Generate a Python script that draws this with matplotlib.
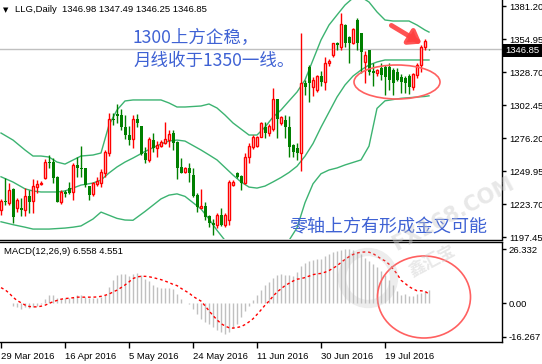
import matplotlib
matplotlib.use('Agg')
import matplotlib.pyplot as plt
import numpy as np
from matplotlib.patches import Ellipse, FancyArrowPatch, Circle, Rectangle

# ---------------- data ----------------
opens = [1219.2, 1226.6, 1225.0, 1235.6, 1220.5, 1220.5, 1219.2, 1230.3, 1226.6, 1237.7,
         1240.1, 1244.9, 1257.3, 1257.6, 1245.7, 1225.8, 1233.7, 1236.9, 1233.7, 1255.0,
         1252.8, 1252.3, 1238.2, 1231.6, 1239.6, 1240.9, 1248.3, 1264.8, 1291.3, 1295.5,
         1295.0, 1285.5, 1278.8, 1275.4, 1291.3, 1286.0, 1264.8, 1258.9, 1274.8, 1268.7,
         1270.1, 1272.7, 1274.8, 1280.1, 1273.5, 1253.1, 1249.6, 1252.3, 1247.0, 1231.1,
         1221.0, 1222.3, 1214.4, 1208.5, 1207.2, 1215.2, 1207.2, 1211.2, 1239.0, 1248.3,
         1246.2, 1240.9, 1261.0, 1269.5, 1270.0, 1277.5, 1284.9, 1280.6, 1283.3, 1307.2,
         1288.1, 1290.7, 1284.9, 1270.9, 1268.2, 1264.2, 1320.4, 1333.2, 1316.7, 1314.6,
         1326.0, 1321.2, 1335.8, 1342.4, 1352.3, 1349.1, 1366.3, 1357.0, 1352.3, 1370.3,
         1359.7, 1337.1, 1346.4, 1329.5, 1327.9, 1331.8, 1333.0, 1333.2, 1330.5, 1329.2,
         1325.2, 1324.0, 1326.0, 1316.7, 1326.5, 1334.5, 1348.6, 1346.98]
highs = [1227.6, 1244.3, 1240.9, 1236.4, 1228.4, 1228.4, 1236.9, 1235.1, 1243.5, 1243.0,
         1242.2, 1259.5, 1262.9, 1260.3, 1245.9, 1235.1, 1235.1, 1241.7, 1256.3, 1261.6,
         1270.1, 1252.5, 1238.4, 1241.7, 1245.1, 1251.5, 1266.9, 1296.1, 1296.1, 1303.5,
         1299.2, 1294.7, 1286.0, 1294.7, 1295.5, 1286.2, 1269.5, 1277.5, 1280.1, 1274.3,
         1274.8, 1289.4, 1282.8, 1282.8, 1273.7, 1260.3, 1253.6, 1256.3, 1252.3, 1232.4,
         1236.0, 1225.8, 1215.0, 1212.0, 1217.0, 1220.5, 1216.5, 1243.0, 1243.0, 1249.5,
         1247.0, 1264.2, 1272.2, 1278.8, 1278.0, 1289.4, 1289.4, 1287.6, 1315.9, 1307.5,
         1293.9, 1294.7, 1293.9, 1271.5, 1272.7, 1359.7, 1322.6, 1334.5, 1325.0, 1326.5,
         1330.0, 1341.1, 1339.0, 1352.3, 1353.0, 1376.1, 1367.0, 1357.2, 1363.7, 1371.6,
         1360.0, 1346.0, 1346.8, 1336.0, 1331.5, 1335.8, 1334.5, 1335.8, 1331.8, 1332.0,
         1327.0, 1326.0, 1327.5, 1328.0, 1335.8, 1350.4, 1354.9, 1347.49]
lows = [1215.2, 1223.1, 1223.1, 1209.1, 1217.8, 1214.4, 1214.4, 1217.0, 1217.0, 1232.4,
        1239.0, 1243.5, 1252.3, 1240.4, 1225.3, 1223.9, 1229.8, 1231.9, 1227.1, 1245.7,
        1245.1, 1237.2, 1227.1, 1230.3, 1238.2, 1237.7, 1245.7, 1262.1, 1286.8, 1288.1,
        1282.8, 1275.4, 1270.9, 1268.2, 1285.5, 1262.9, 1256.8, 1257.6, 1265.6, 1261.6,
        1269.5, 1271.6, 1269.5, 1266.9, 1243.6, 1248.3, 1248.9, 1241.7, 1229.7, 1217.8,
        1220.5, 1211.2, 1205.9, 1199.0, 1205.0, 1206.5, 1206.0, 1207.2, 1238.5, 1245.0,
        1235.1, 1240.0, 1256.8, 1268.0, 1269.0, 1276.9, 1276.2, 1278.0, 1282.2, 1276.2,
        1287.0, 1276.2, 1261.6, 1261.0, 1258.9, 1250.4, 1310.6, 1305.3, 1310.0, 1313.0,
        1318.0, 1314.6, 1334.0, 1341.1, 1346.4, 1346.4, 1349.1, 1335.8, 1351.0, 1346.4,
        1327.9, 1319.9, 1326.5, 1318.0, 1326.0, 1322.6, 1310.6, 1314.6, 1310.6, 1322.0,
        1312.0, 1312.0, 1311.5, 1315.0, 1324.0, 1329.0, 1346.4, 1346.25]
closes = [1226.3, 1225.5, 1235.1, 1213.8, 1227.1, 1219.2, 1230.3, 1225.8, 1238.2, 1239.8,
          1240.9, 1257.6, 1256.5, 1244.9, 1225.8, 1233.7, 1231.6, 1233.0, 1255.0, 1252.3,
          1251.5, 1239.0, 1231.1, 1240.4, 1242.2, 1249.6, 1265.0, 1291.3, 1290.7, 1294.2,
          1285.5, 1278.8, 1274.8, 1291.3, 1288.6, 1263.7, 1258.9, 1275.4, 1268.2, 1270.9,
          1273.5, 1275.4, 1279.6, 1272.7, 1252.3, 1248.9, 1252.3, 1248.3, 1230.3, 1221.8,
          1222.3, 1213.3, 1209.1, 1207.2, 1215.2, 1207.2, 1215.2, 1241.7, 1241.7, 1245.7,
          1240.4, 1261.6, 1270.1, 1277.0, 1276.9, 1288.1, 1280.6, 1286.0, 1307.2, 1291.3,
          1292.9, 1284.9, 1269.5, 1265.6, 1264.2, 1319.9, 1317.2, 1319.9, 1322.6, 1325.7,
          1321.0, 1335.8, 1337.7, 1351.7, 1350.4, 1367.1, 1351.7, 1351.7, 1362.9, 1351.7,
          1345.1, 1342.4, 1329.2, 1328.0, 1330.5, 1326.5, 1325.0, 1322.6, 1320.0, 1322.6,
          1321.2, 1320.0, 1317.0, 1327.3, 1334.5, 1349.1, 1353.9, 1346.85]

bb_bars = [0, 3, 6, 8, 10, 12, 14, 16, 18, 20, 23, 25, 27, 29, 31, 33, 36, 40, 42, 44,
           46, 50, 52, 54, 56, 58, 60, 62, 64, 66, 68, 70, 72, 74, 76, 78, 80, 82, 84, 86,
           88, 90, 92, 94, 96, 98, 100, 102, 104, 106, 107]
bb_upper = [1280.4, 1274.8, 1266.9, 1262.1, 1262.1, 1261.3, 1257.3, 1255.7, 1258.9, 1262.1,
            1262.9, 1264.5, 1286.8, 1298.7, 1305.9, 1306.7, 1306.7, 1306.7, 1304.3, 1301.1,
            1301.1, 1301.9, 1303.5, 1300.3, 1294.7, 1288.4, 1283.6, 1278.8, 1278.8, 1285.1,
            1293.1, 1298.7, 1305.9, 1313.0, 1322.6, 1338.5, 1354.4, 1366.3, 1374.3, 1382.2,
            1387.8, 1388.6, 1384.6, 1376.7, 1370.3, 1369.5, 1369.5, 1369.5, 1366.3, 1362.3, 1360.7]
bb_mid = [1245.6, 1241.4, 1236.0, 1234.3, 1233.5, 1233.5, 1233.5, 1234.3, 1236.6, 1239.0,
          1240.6, 1243.0, 1248.6, 1253.4, 1257.3, 1260.5, 1265.7, 1271.7, 1274.0, 1274.8,
          1274.0, 1266.9, 1263.0, 1259.0, 1253.0, 1247.0, 1241.5, 1237.4, 1236.6, 1238.2,
          1241.5, 1245.0, 1249.0, 1254.0, 1262.0, 1272.0, 1285.0, 1297.0, 1309.0, 1318.6,
          1325.7, 1330.5, 1334.5, 1336.9, 1338.5, 1338.5, 1338.5, 1338.5, 1338.5, 1338.5, 1338.5]
bb_lower = [1209.8, 1207.5, 1205.5, 1204.0, 1204.0, 1204.0, 1204.4, 1204.8, 1205.5, 1206.5,
            1212.0, 1217.5, 1215.0, 1212.5, 1211.2, 1211.0, 1218.0, 1228.0, 1231.0, 1232.0,
            1230.0, 1220.0, 1212.0, 1203.0, 1195.0, 1188.0, 1184.0, 1182.0, 1182.0, 1183.0,
            1186.0, 1190.0, 1195.0, 1205.0, 1225.0, 1240.0, 1248.0, 1251.0, 1252.6, 1255.0,
            1257.0, 1259.0, 1270.0, 1300.0, 1306.0, 1307.0, 1308.0, 1308.5, 1309.0, 1309.5, 1310.0]

macd_hist = [0.3, 0.2, 0.0, -1.2, -2.0, -2.8, -2.0, -2.3, -2.0, -1.2,
             -0.5, 1.9, 3.9, 3.9, 2.7, 1.9, 2.7, 2.7, 3.0, 3.9,
             3.9, 3.0, 2.7, 2.7, 2.7, 3.0, 4.2, 8.1, 11.2, 13.6,
             14.3, 14.0, 13.2, 14.3, 14.8, 13.9, 12.0, 10.8, 8.9, 8.1,
             7.6, 7.6, 7.3, 7.0, 4.5, 2.3, 0.3, -0.1, -2.8, -5.4,
             -7.5, -9.0, -10.1, -11.7, -12.9, -14.1, -14.8, -13.7, -12.1, -10.1,
             -6.7, -3.9, -1.2, 1.4, 3.9, 6.5, 8.9, 10.4, 12.3, 13.9,
             14.3, 13.9, 13.6, 13.2, 15.1, 18.2, 19.8, 20.6, 21.0, 21.3,
             21.3, 22.9, 24.1, 24.8, 25.2, 26.0, 26.3, 26.3, 26.0, 24.8,
             23.7, 22.1, 20.6, 19.0, 17.4, 15.9, 13.6, 11.2, 8.9, 5.8,
             4.2, 4.5, 3.4, 3.6, 4.5, 5.0, 5.8, 6.558]
macd_signal = [7.6, 6.6, 5.0, 3.0, 1.4, 0.3, -0.8, -1.5, -1.7, -1.7,
               -1.4, -0.9, -0.1, 0.8, 1.4, 2.0, 2.3, 2.5, 2.7, 3.0,
               3.0, 3.0, 3.0, 3.0, 3.1, 3.4, 3.9, 4.5, 5.5, 6.4,
               7.6, 8.9, 10.4, 12.0, 12.8, 13.1, 13.1, 12.9, 12.5, 12.0,
               11.5, 10.8, 10.1, 9.2, 8.6, 7.3, 6.1, 5.0, 3.4, 2.2,
               1.1, -1.2, -3.6, -5.9, -8.0, -9.8, -11.0, -11.8, -12.0, -11.7,
               -11.3, -10.3, -9.0, -7.5, -5.4, -3.2, -0.9, 1.1, 3.4, 5.5,
               7.0, 8.6, 9.7, 10.8, 11.7, 12.0, 12.5, 13.2, 13.9, 14.3,
               14.5, 15.1, 15.9, 17.0, 18.2, 19.8, 21.3, 22.6, 23.7, 24.4,
               24.8, 24.9, 24.8, 24.1, 22.9, 21.6, 20.6, 19.0, 16.7, 14.3,
               11.2, 9.7, 8.1, 7.0, 6.1, 6.1, 5.8, 4.551]

price_ticks = [1381.20, 1354.95, 1328.70, 1302.45, 1276.20, 1249.95, 1223.70, 1197.45]
macd_ticks = [26.332, 0.00, -16.267]
macd_tick_labels = ['26.332', '0.00', '-16.267']
date_bars = [0, 16, 32, 48, 64, 80, 96]
date_labels = ['29 Mar 2016', '16 Apr 2016', '5 May 2016', '24 May 2016',
               '11 Jun 2016', '30 Jun 2016', '19 Jul 2016']
title_text = 'LLG,Daily  1346.98 1347.49 1346.25 1346.85'
last_price = 1346.85
macd_title = 'MACD(12,26,9) 6.558 4.551'
note1 = '1300上方企稳，'
note2 = '月线收于1350一线。'
note3 = '零轴上方有形成金叉可能'

# ---------------- figure ----------------
W, H = 542, 364
fig = plt.figure(figsize=(W / 100, H / 100), dpi=100)
FONT = 'Liberation Sans'
CJK = ['Noto Sans CJK SC', 'DejaVu Sans']
FS = 6.8

def fp(x, y):
    return (x / W, 1 - y / H)

ax = fig.add_axes([0, 1 - 239 / H, 502 / W, 239 / H])
axm = fig.add_axes([0, 1 - 342 / H, 502 / W, 100 / H])

o = np.array(opens); h = np.array(highs); l = np.array(lows); c = np.array(closes)
x = np.arange(len(o))
up = c >= o
dn = ~up

ax.axhline(last_price, color='#c0c0c0', lw=1, zorder=0)
ax.plot(bb_bars, bb_upper, color='#3cb371', lw=1, zorder=1)
ax.plot(bb_bars, bb_mid, color='#3cb371', lw=1, zorder=1)
ax.plot(bb_bars, bb_lower, color='#3cb371', lw=1, zorder=1)

ax.vlines(x[up], l[up], h[up], color='#ff0000', lw=1, zorder=2)
ax.vlines(x[dn], l[dn], h[dn], color='#008000', lw=1, zorder=2)
ax.bar(x[up], np.maximum(c[up] - o[up], 0.3), bottom=o[up], width=0.5,
       facecolor='white', edgecolor='#ff0000', lw=1, zorder=3)
ax.bar(x[dn], np.maximum(o[dn] - c[dn], 0.6), bottom=c[dn], width=0.75,
       color='#008000', lw=0, zorder=3)

ax.set_xlim(-0.25, 125.25)
ax.set_ylim(1196.1, 1386.21)
ax.yaxis.tick_right()
ax.set_yticks(price_ticks)
ax.set_yticklabels(['%.2f' % v for v in price_ticks], fontfamily=FONT, fontsize=FS)
ax.tick_params(axis='y', direction='out', length=3, width=1, pad=2, colors='black')
ax.set_xticks([])
for s in ['left', 'top', 'bottom']:
    ax.spines[s].set_visible(False)
ax.spines['right'].set_linewidth(1)

# MACD
axm.vlines(x, 0, macd_hist, color='#c0c0c0', lw=1)
axm.plot(x, macd_signal, color='#ff0000', lw=1, ls=(0, (2, 2)))
axm.set_xlim(-0.25, 125.25)
axm.set_ylim(-18.74, 29.74)
axm.yaxis.tick_right()
axm.set_yticks(macd_ticks)
axm.set_yticklabels(macd_tick_labels, fontfamily=FONT, fontsize=FS)
axm.tick_params(axis='y', direction='out', length=3, width=1, pad=2)
axm.set_xticks(date_bars)
axm.set_xticklabels(date_labels, fontfamily=FONT, fontsize=FS)
for lab in axm.get_xticklabels():
    lab.set_horizontalalignment('left')
axm.tick_params(axis='x', direction='out', length=4, width=1, pad=3)
axm.spines['left'].set_visible(False)
for s in ['top', 'right', 'bottom']:
    axm.spines[s].set_linewidth(1)
# separator line between panels
fig.add_artist(plt.Line2D([0, 502 / W], [1 - 240 / H, 1 - 240 / H], color='black', lw=1,
                          transform=fig.transFigure))

# titles
fig.text(*fp(3, 10), '▼', fontsize=5, va='center', ha='left', family='DejaVu Sans')
fig.text(*fp(15, 10), title_text, fontsize=FS, va='center', ha='left', family=FONT)
fig.text(*fp(4, 252), macd_title, fontsize=FS, va='center', ha='left', family=FONT)

# price label box
fig.patches.append(Rectangle(fp(503, 57), 39 / W, 13 / H, transform=fig.transFigure,
                             facecolor='black', edgecolor='none'))
fig.text(*fp(505, 50.5), '%.2f' % last_price, fontsize=FS, color='white',
         va='center', ha='left', family=FONT)

# notes
blue = '#3f62d4'
fig.text(*fp(133, 38), note1, fontsize=12.6, color=blue, va='center', ha='left', family=CJK)
fig.text(*fp(133, 61), note2, fontsize=12.6, color=blue, va='center', ha='left', family=CJK)
fig.text(*fp(289, 227), note3, fontsize=13, color=blue, va='center', ha='left', family=CJK)

# red marks
def pxpt(xp, yp):
    return (xp, H - yp)

fig.patches.append(Ellipse(pxpt(397, 82), 86, 34, transform=None, fill=False,
                           edgecolor='#ff6060', lw=1.2))
fig.patches.append(Ellipse(pxpt(424, 297), 93, 82, transform=None, fill=False,
                           edgecolor='#ff6060', lw=1.2))
fig.patches.append(FancyArrowPatch(pxpt(389, 24), pxpt(424, 45), transform=None,
                                   arrowstyle='-|>,head_length=7,head_width=5',
                                   color='#ff4040', lw=3.5, alpha=0.9))

# watermark (faint)
fig.patches.append(Circle(pxpt(368, 278), 26, transform=None, fill=False,
                          edgecolor='#b8b8b8', lw=6, alpha=0.25))
fig.text(*fp(453, 214), 'FX168.COM', fontsize=15, color='#cccccc', alpha=0.45,
         rotation=28, ha='center', va='center', family='DejaVu Sans', fontweight='bold')
fig.text(*fp(432, 262), '鑫汇宝', fontsize=12, color='#cccccc', alpha=0.45,
         rotation=28, ha='center', va='center', family=CJK, fontweight='bold')

fig.savefig('out.png', dpi=100)
